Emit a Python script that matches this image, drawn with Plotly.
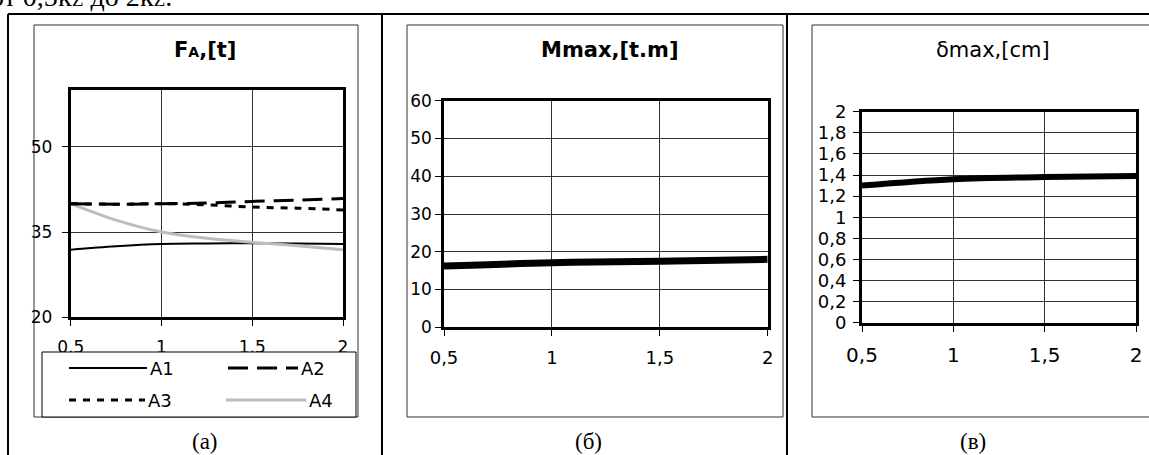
import plotly.graph_objects as go

# ---- data ----
k_ratio = [0.5, 0.75, 1.0, 1.25, 1.5, 1.75, 2.0]
fa_A1 = [31.9, 32.5, 32.9, 33.0, 33.05, 33.0, 32.9]
fa_A2 = [40.0, 39.9, 40.0, 40.1, 40.4, 40.6, 40.9]
fa_A3 = [40.0, 39.9, 40.0, 39.8, 39.4, 39.2, 38.9]
fa_A4 = [40.0, 37.1, 35.0, 33.9, 33.2, 32.6, 31.9]

k_coarse = [0.5, 1.0, 1.5, 2.0]
m_max = [16.2, 17.1, 17.5, 18.0]
d_max = [1.30, 1.36, 1.38, 1.39]

x_ticks = [0.5, 1.0, 1.5, 2.0]
x_text_dot = ["0.5", "1", "1.5", "2"]
x_text_comma = ["0,5", "1", "1,5", "2"]
fa_ticks = [20, 35, 50]
m_ticks = [0, 10, 20, 30, 40, 50, 60]
d_ticks = [0, 0.2, 0.4, 0.6, 0.8, 1.0, 1.2, 1.4, 1.6, 1.8, 2.0]
d_text = ["0", "0,2", "0,4", "0,6", "0,8", "1", "1,2", "1,4", "1,6", "1,8", "2"]

W, H = 1149, 455
SANS = "DejaVu Sans"
SERIF = "Liberation Serif"


def px(x):
    return x / W


def py(y):
    return 1 - y / H


fig = go.Figure()

# panel (a): reaction force at support A
fig.add_trace(go.Scatter(x=k_ratio, y=fa_A1, mode="lines", line=dict(color="black", width=2, shape="spline"),
                         xaxis="x", yaxis="y", showlegend=False))
fig.add_trace(go.Scatter(x=k_ratio, y=fa_A4, mode="lines", line=dict(color="#bdbdbd", width=3, shape="spline"),
                         xaxis="x", yaxis="y", showlegend=False))
fig.add_trace(go.Scatter(x=k_ratio, y=fa_A3, mode="lines",
                         line=dict(color="black", width=3, dash="7px,7px", shape="spline"),
                         xaxis="x", yaxis="y", showlegend=False))
fig.add_trace(go.Scatter(x=k_ratio, y=fa_A2, mode="lines",
                         line=dict(color="black", width=3, dash="20px,9px", shape="spline"),
                         xaxis="x", yaxis="y", showlegend=False))

# panel (б): maximum moment
fig.add_trace(go.Scatter(x=k_coarse, y=m_max, mode="lines", line=dict(color="black", width=7, shape="spline"),
                         xaxis="x2", yaxis="y2", showlegend=False))

# panel (в): maximum deflection
fig.add_trace(go.Scatter(x=k_coarse, y=d_max, mode="lines", line=dict(color="black", width=6, shape="spline"),
                         xaxis="x3", yaxis="y3", showlegend=False))

grid_col = "#333333"


def xaxis_cfg(domain, anchor, ticktext, size, standoff, lw):
    return dict(domain=domain, anchor=anchor, range=[0.5, 2.0], tickvals=x_ticks, ticktext=ticktext,
                showgrid=True, gridcolor=grid_col, gridwidth=1, zeroline=False, automargin=False,
                showline=True, linecolor="black", linewidth=lw, mirror=True,
                ticks="outside", ticklen=6, tickcolor="black", tickwidth=1,
                ticklabelstandoff=standoff, tickfont=dict(family=SANS, size=size, color="black"))


def yaxis_cfg(domain, anchor, rng, tickvals, ticktext, size, standoff, lw):
    return dict(domain=domain, anchor=anchor, range=rng, tickvals=tickvals, ticktext=ticktext,
                showgrid=True, gridcolor=grid_col, gridwidth=1, zeroline=False, automargin=False,
                showline=True, linecolor="black", linewidth=lw, mirror=True,
                ticks="outside", ticklen=6, tickcolor="black", tickwidth=1,
                ticklabelstandoff=standoff, tickfont=dict(family=SANS, size=size, color="black"))


a_x = [px(70.7), px(343)]
a_y = [py(317.3), py(90)]
b_x = [px(444), px(767.7)]
b_y = [py(327.3), py(100.7)]
c_x = [px(862), px(1136)]
c_y = [py(322.7), py(111.7)]

shapes = []
# table rules
for (x0, y0, x1, y1) in [(8, 14, W, 14), (8, 14, 8, H), (382, 14, 382, H), (787, 14, 787, H)]:
    shapes.append(dict(type="line", xref="paper", yref="paper", x0=px(x0), y0=py(y0), x1=px(x1), y1=py(y1),
                       line=dict(color="black", width=2), layer="above"))
# chart frames
for (x0, x1) in [(34, 358), (407, 783), (812, W + 20)]:
    shapes.append(dict(type="rect", xref="paper", yref="paper", x0=px(x0), y0=py(417), x1=px(x1), y1=py(25),
                       line=dict(color="#333333", width=1), layer="below"))
# legend box of panel (a)
shapes.append(dict(type="rect", xref="paper", yref="paper", x0=px(42), y0=py(417), x1=px(356), y1=py(352),
                   line=dict(color="black", width=1), fillcolor="white", layer="above"))

legend_items = [
    ("A1", 69, 147, 368, dict(color="black", width=2)),
    ("A2", 228, 298, 368, dict(color="black", width=3, dash="20px,9px")),
    ("A3", 69, 145, 400, dict(color="black", width=3, dash="7px,7px")),
    ("A4", 226, 306, 400, dict(color="#bdbdbd", width=3)),
]
annotations = []
for name, x0, x1, yy, ln in legend_items:
    shapes.append(dict(type="line", xref="paper", yref="paper", x0=px(x0), y0=py(yy), x1=px(x1), y1=py(yy),
                       line=ln, layer="above"))
    annotations.append(dict(text=name, xref="paper", yref="paper", x=px(x1 + 1), y=py(yy),
                            xanchor="left", yanchor="middle", showarrow=False,
                            font=dict(family=SANS, size=18, color="black")))

# chart titles
annotations += [
    dict(text="<b>F<span style='font-size:14px'>A</span>,[t]</b>", x=px(205), y=py(50)),
    dict(text="<b>Mmax,[t.m]</b>", x=px(610), y=py(50)),
    dict(text="δmax,[cm]", x=px(993), y=py(50)),
]
for ann in annotations[-3:]:
    ann.update(xref="paper", yref="paper", xanchor="center", yanchor="middle", showarrow=False,
               font=dict(family=SANS, size=21, color="black"))

# panel captions
for cap, xc in [("(a)", 205), ("(б)", 588), ("(в)", 973)]:
    annotations.append(dict(text=cap, xref="paper", yref="paper", x=px(xc), y=py(441),
                            xanchor="center", yanchor="middle", showarrow=False,
                            font=dict(family=SERIF, size=23, color="black")))

# running text line above the table (small index letters kept on the baseline)
annotations.append(dict(text="от 0,5k<span style='font-size:19px'>Z</span> до 2k<span style='font-size:19px'>Z</span>.",
                        xref="paper", yref="paper",
                        x=px(-12), y=py(14.5), xanchor="left", yanchor="bottom", showarrow=False,
                        font=dict(family=SERIF, size=28, color="black")))

fig.update_layout(
    width=W, height=H, margin=dict(l=0, r=0, t=0, b=0, autoexpand=False),
    paper_bgcolor="white", plot_bgcolor="white",
    xaxis=xaxis_cfg(a_x, "y", x_text_dot, 17, 6, 3),
    yaxis=yaxis_cfg(a_y, "x", [20, 60], fa_ticks, [str(v) for v in fa_ticks], 17, 6, 3),
    xaxis2=xaxis_cfg(b_x, "y2", x_text_comma, 18, 6, 2.5),
    yaxis2=yaxis_cfg(b_y, "x2", [0, 60], m_ticks, [str(v) for v in m_ticks], 17, 0, 2.5),
    xaxis3=xaxis_cfg(c_x, "y3", x_text_comma, 20, 6, 3),
    yaxis3=yaxis_cfg(c_y, "x3", [0, 2], d_ticks, d_text, 18, 3, 3),
    shapes=shapes,
    annotations=annotations,
)

fig.write_html("out.html")
